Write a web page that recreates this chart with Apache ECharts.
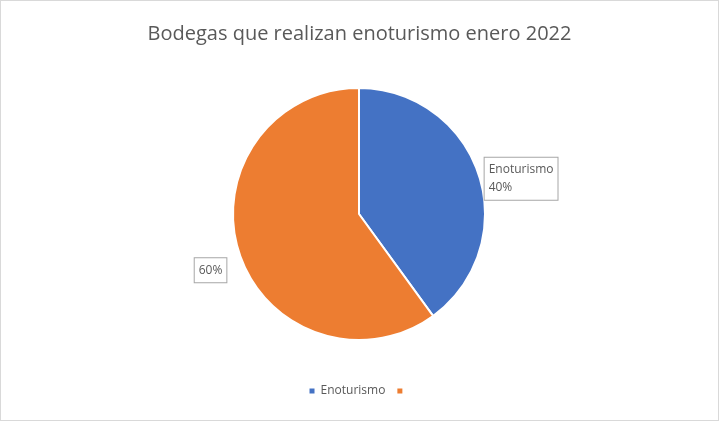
<!DOCTYPE html>
<html><head><meta charset="utf-8">
<script src="https://cdn.jsdelivr.net/npm/echarts@6/dist/echarts.min.js"></script>
<style>html,body{margin:0;padding:0;background:#fff}#c{width:717px;height:419px;border:1px solid #d9d9d9}</style>
</head><body><div id="c"></div>
<script>
const categories = ['Enoturismo', ' '];
const values = [40, 60];
const colors = ['#4472c4', '#ed7d31'];
const chart = echarts.init(document.getElementById('c'));
chart.setOption({
  animation: false,
  title: { text: 'Bodegas que realizan enoturismo enero 2022', left: 'center', top: 18,
    textStyle: { fontFamily: 'Open Sans', fontSize: 20, fontWeight: 'normal', color: '#595959' } },
  legend: { bottom: 18, left: 'center', icon: 'rect', itemWidth: 7, itemHeight: 7, itemGap: 10,
    data: categories, textStyle: { fontFamily: 'Open Sans', fontSize: 12, color: '#595959' } },
  series: [{
    type: 'pie', center: [358, 213], radius: 126, startAngle: 90, clockwise: true,
    data: categories.map((c, i) => ({ name: c, value: values[i], itemStyle: { color: colors[i] } })),
    itemStyle: { borderColor: '#fff', borderWidth: 2 },
    label: {
      show: true, position: 'outside',
      formatter: p => (p.name.trim() ? p.name + '\n' : '') + p.percent + '%',
      fontFamily: 'Open Sans', fontSize: 12, color: '#595959', lineHeight: 18, align: 'center',
      backgroundColor: '#fff', borderColor: '#a6a6a6', borderWidth: 1, padding: [3, 4]
    },
    labelLine: { show: false, length: 4, length2: 0 },
    labelLayout: p => p.dataIndex === 0 ? { dx: -3, dy: 5 } : { dx: -4, dy: 16 }
  }]
});
</script></body></html>
